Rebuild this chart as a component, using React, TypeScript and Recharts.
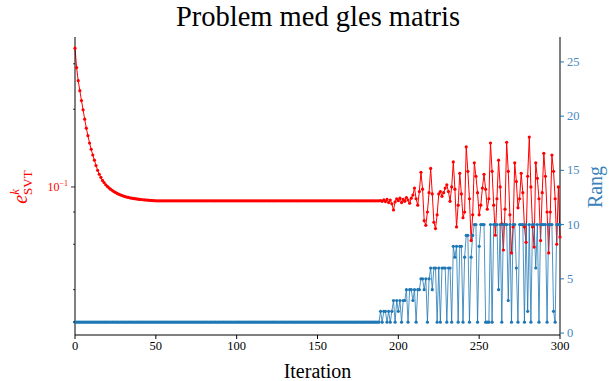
import { LineChart, Line, XAxis, YAxis, Label } from "recharts";

// iteration index 0..300
const iterations = Array.from({ length: 301 }, (_, i) => i);

// e^k_SVT per iteration (log axis)
const errorSVT = [
  0.345, 0.29, 0.258, 0.236, 0.216, 0.199, 0.183, 0.169, 0.158, 0.148,
  0.14, 0.133, 0.127, 0.121, 0.116, 0.112, 0.109, 0.106, 0.104, 0.102,
  0.1005, 0.0992, 0.098, 0.097, 0.096, 0.0952, 0.0945, 0.0938, 0.0932, 0.0927,
  0.0922, 0.0918, 0.0914, 0.0911, 0.0908, 0.0905, 0.0903, 0.0901, 0.0899, 0.0897,
  0.0895, 0.0894, 0.0892, 0.0891, 0.089, 0.0889, 0.0888, 0.0887, 0.0886, 0.0885,
  // 50..187
  0.0884, 0.0884, 0.0884, 0.0884, 0.0884, 0.0884, 0.0884, 0.0884, 0.0884, 0.0884,
  0.0884, 0.0884, 0.0884, 0.0884, 0.0884, 0.0884, 0.0884, 0.0884, 0.0884, 0.0884,
  0.0884, 0.0884, 0.0884, 0.0884, 0.0884, 0.0884, 0.0884, 0.0884, 0.0884, 0.0884,
  0.0884, 0.0884, 0.0884, 0.0884, 0.0884, 0.0884, 0.0884, 0.0884, 0.0884, 0.0884,
  0.0884, 0.0884, 0.0884, 0.0884, 0.0884, 0.0884, 0.0884, 0.0884, 0.0884, 0.0884,
  0.0884, 0.0884, 0.0884, 0.0884, 0.0884, 0.0884, 0.0884, 0.0884, 0.0884, 0.0884,
  0.0884, 0.0884, 0.0884, 0.0884, 0.0884, 0.0884, 0.0884, 0.0884, 0.0884, 0.0884,
  0.0884, 0.0884, 0.0884, 0.0884, 0.0884, 0.0884, 0.0884, 0.0884, 0.0884, 0.0884,
  0.0884, 0.0884, 0.0884, 0.0884, 0.0884, 0.0884, 0.0884, 0.0884, 0.0884, 0.0884,
  0.0884, 0.0884, 0.0884, 0.0884, 0.0884, 0.0884, 0.0884, 0.0884, 0.0884, 0.0884,
  0.0884, 0.0884, 0.0884, 0.0884, 0.0884, 0.0884, 0.0884, 0.0884, 0.0884, 0.0884,
  0.0884, 0.0884, 0.0884, 0.0884, 0.0884, 0.0884, 0.0884, 0.0884, 0.0884, 0.0884,
  0.0884, 0.0884, 0.0884, 0.0884, 0.0884, 0.0884, 0.0884, 0.0884, 0.0884, 0.0884,
  0.0884, 0.0884, 0.0884, 0.0884, 0.0884, 0.0884, 0.0884, 0.0884,
  // 188..300
  0.0884, 0.0886, 0.088, 0.0892, 0.0878, 0.0895, 0.087, 0.089, 0.086, 0.0815,
  0.0875, 0.09, 0.0885, 0.0905, 0.087, 0.0895, 0.088, 0.091, 0.089, 0.0865,
  0.0905, 0.093, 0.099, 0.09, 0.085, 0.096, 0.114, 0.098, 0.074, 0.071,
  0.08, 0.095, 0.118, 0.094, 0.073, 0.069, 0.078, 0.094, 0.096, 0.092,
  0.095, 0.099, 0.102, 0.096, 0.088, 0.1, 0.125, 0.098, 0.07, 0.085,
  0.113, 0.094, 0.076, 0.08, 0.143, 0.115, 0.09, 0.062, 0.078, 0.124,
  0.11, 0.095, 0.078, 0.085, 0.099, 0.112, 0.098, 0.082, 0.09, 0.148,
  0.115, 0.085, 0.065, 0.09, 0.127, 0.1, 0.072, 0.057, 0.082, 0.149,
  0.115, 0.078, 0.0555, 0.07, 0.124, 0.105, 0.083, 0.09, 0.113, 0.095,
  0.07, 0.061, 0.11, 0.156, 0.1, 0.07, 0.0585, 0.124, 0.108, 0.09,
  0.062, 0.095, 0.135, 0.11, 0.08, 0.0555, 0.08, 0.133, 0.115, 0.09,
  0.06, 0.1, 0.064,
];

// rank per iteration
const rank = [
  // 0..188
  1, 1, 1, 1, 1, 1, 1, 1, 1, 1, 1, 1, 1, 1, 1, 1, 1, 1, 1, 1,
  1, 1, 1, 1, 1, 1, 1, 1, 1, 1, 1, 1, 1, 1, 1, 1, 1, 1, 1, 1,
  1, 1, 1, 1, 1, 1, 1, 1, 1, 1, 1, 1, 1, 1, 1, 1, 1, 1, 1, 1,
  1, 1, 1, 1, 1, 1, 1, 1, 1, 1, 1, 1, 1, 1, 1, 1, 1, 1, 1, 1,
  1, 1, 1, 1, 1, 1, 1, 1, 1, 1, 1, 1, 1, 1, 1, 1, 1, 1, 1, 1,
  1, 1, 1, 1, 1, 1, 1, 1, 1, 1, 1, 1, 1, 1, 1, 1, 1, 1, 1, 1,
  1, 1, 1, 1, 1, 1, 1, 1, 1, 1, 1, 1, 1, 1, 1, 1, 1, 1, 1, 1,
  1, 1, 1, 1, 1, 1, 1, 1, 1, 1, 1, 1, 1, 1, 1, 1, 1, 1, 1, 1,
  1, 1, 1, 1, 1, 1, 1, 1, 1, 1, 1, 1, 1, 1, 1, 1, 1, 1, 1, 1,
  1, 1, 1, 1, 1, 1, 1, 1, 1,
  // 189..246
  2, 1, 2, 2, 1, 2, 1, 2,
  3, 1, 3, 2, 3, 1, 3, 3,
  4, 1, 4, 4, 3, 4, 1, 4, 4,
  5, 5, 4, 5, 1, 5,
  6, 4, 6, 6, 1, 6, 1, 6, 6, 6, 1, 6, 6, 1,
  8, 7, 8, 1, 8, 8, 1, 7, 9, 9, 1, 7, 9,
  // 247..300
  10, 10, 1, 8, 10, 10, 10, 1, 1, 1,
  10, 1, 10, 10, 10, 4, 10, 1, 10, 10,
  10, 3, 10, 1, 10, 10, 6, 1, 10, 10,
  10, 1, 10, 2, 10, 1, 10, 10, 6, 10,
  1, 10, 10, 10, 10, 1, 10, 10, 10, 2,
  1, 10, 10, 10,
];

const xTicks = [0, 50, 100, 150, 200, 250, 300];
const errTicks = [0.03, 0.04, 0.05, 0.06, 0.07, 0.08, 0.09, 0.1, 0.2, 0.3];
const rankTicks = [0, 5, 10, 15, 20, 25];

const data = iterations.map((it, i) => ({ it, err: errorSVT[i], rank: rank[i] }));

const FONT = "'Liberation Serif', 'DejaVu Serif', serif";
const RED = "#ff0000";
const BLUE = "#1f77b4";

const ErrTick = (props: any) => {
  const { x, y, payload } = props;
  const major = payload.value === 0.1;
  return (
    <g>
      <line x1={x} x2={x - (major ? 4 : 2)} y1={y} y2={y} stroke="#000" strokeWidth={0.8} />
      {major && (
        <text x={x - 7} y={y + 4} textAnchor="end" fill={RED} fontSize={12} fontFamily={FONT}>
          10<tspan dy={-5} fontSize={8}>−1</tspan>
        </text>
      )}
    </g>
  );
};

const IterTick = (props: any) => {
  const { x, y, payload } = props;
  return (
    <text x={x} y={y + 9} textAnchor="middle" fill="#000" fontSize={12.5} fontFamily={FONT}>
      {payload.value}
    </text>
  );
};

const RankTick = (props: any) => {
  const { x, y, payload } = props;
  return (
    <text x={x} y={y + 4} textAnchor="start" fill="#4a88c0" fontSize={12.5} fontFamily={FONT}>
      {payload.value}
    </text>
  );
};

export default function App() {
  return (
    <div
      style={{
        position: "absolute",
        left: 0,
        top: 0,
        width: 615,
        height: 381,
        background: "#fff",
        fontFamily: FONT,
      }}
    >
      <div
        style={{
          position: "absolute",
          left: 318,
          top: 1,
          transform: "translateX(-50%)",
          whiteSpace: "nowrap",
          fontSize: 28.5,
          lineHeight: "32px",
          color: "#000",
        }}
      >
        Problem med gles matris
      </div>
      <LineChart
        width={615}
        height={381}
        data={data}
        margin={{ top: 37, right: 20, bottom: 16, left: 30 }}
      >
        <XAxis
          dataKey="it"
          type="number"
          domain={[0, 300]}
          ticks={xTicks}
          tickSize={4}
          tickMargin={2}
          stroke="#000"
          tick={<IterTick />}
          height={30}
        >
          <Label
            content={() => (
              <text x={317.5} y={378} textAnchor="middle" fontSize={20} fontFamily={FONT} fill="#000">
                Iteration
              </text>
            )}
          />
        </XAxis>
        <XAxis
          xAxisId="top"
          orientation="top"
          type="number"
          domain={[0, 300]}
          height={0}
          tick={false}
          tickLine={false}
          stroke="#000"
        />
        <YAxis
          yAxisId="left"
          type="number"
          scale="log"
          domain={[0.0267, 0.381]}
          allowDataOverflow
          ticks={errTicks}
          tick={<ErrTick />}
          tickLine={false}
          tickSize={0}
          tickMargin={0}
          stroke="#000"
          width={45}
        >
          <Label
            content={() => (
              <text
                x={27}
                y={187}
                transform="rotate(-90, 27, 187)"
                textAnchor="middle"
                fill={RED}
                fontFamily={FONT}
                fontSize={20}
              >
                <tspan fontStyle="italic">e</tspan>
                <tspan dy={-8} fontSize={13} fontStyle="italic">k</tspan>
                <tspan dx={-6} dy={13} fontSize={13}>SVT</tspan>
              </text>
            )}
          />
        </YAxis>
        <YAxis
          yAxisId="right"
          orientation="right"
          type="number"
          domain={[-0.18, 27.3]}
          allowDataOverflow
          ticks={rankTicks}
          tickSize={4}
          tickMargin={3}
          stroke="#000"
          tickLine={{ stroke: BLUE }}
          tick={<RankTick />}
          width={35}
        >
          <Label
            content={() => (
              <text
                x={602}
                y={187}
                transform="rotate(-90, 602, 187)"
                textAnchor="middle"
                fill="#3a82bb"
                fontFamily={FONT}
                fontSize={20}
              >
                Rang
              </text>
            )}
          />
        </YAxis>
        <Line
          yAxisId="left"
          dataKey="err"
          type="linear"
          stroke={RED}
          strokeWidth={1}
          dot={{ r: 1.6, fill: RED, stroke: "none" }}
          isAnimationActive={false}
        />
        <Line
          yAxisId="right"
          dataKey="rank"
          type="linear"
          stroke={BLUE}
          strokeWidth={0.8}
          dot={{ r: 1.6, fill: BLUE, stroke: "none" }}
          isAnimationActive={false}
        />
      </LineChart>
    </div>
  );
}
